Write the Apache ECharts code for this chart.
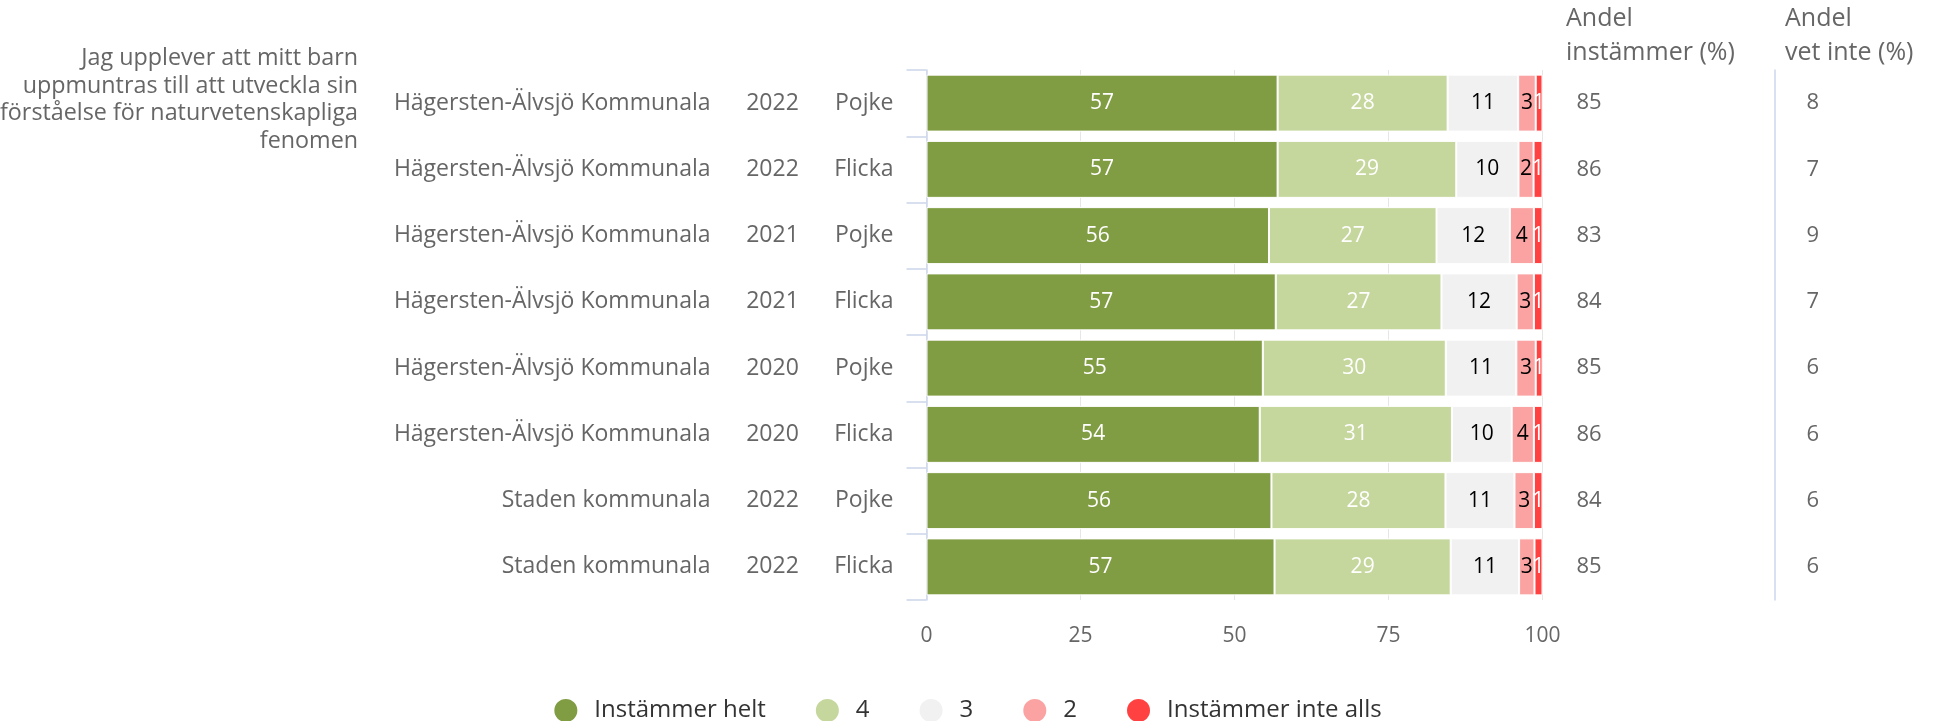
<!DOCTYPE html>
<html>
<head>
<meta charset="utf-8">
<script src="https://cdn.jsdelivr.net/npm/echarts@6/dist/echarts.min.js"></script>
<style>
  html, body { margin: 0; padding: 0; background: #fff; }
  #main { width: 1934px; height: 721px; }
</style>
</head>
<body>
<div id="main"></div>
<script>
// kategorier (uppifrån och ned)
const enheter = ['Hägersten-Älvsjö Kommunala', 'Hägersten-Älvsjö Kommunala', 'Hägersten-Älvsjö Kommunala',
  'Hägersten-Älvsjö Kommunala', 'Hägersten-Älvsjö Kommunala', 'Hägersten-Älvsjö Kommunala',
  'Staden kommunala', 'Staden kommunala'];
const ar = ['2022', '2022', '2021', '2021', '2020', '2020', '2022', '2022'];
const kon = ['Pojke', 'Flicka', 'Pojke', 'Flicka', 'Pojke', 'Flicka', 'Pojke', 'Flicka'];

// andelar i procent per svarsalternativ
const helt = [57.0, 57.0, 55.6, 56.7, 54.6, 54.1, 56.0, 56.5];
const fyra = [27.6, 29.0, 27.2, 26.9, 29.7, 31.2, 28.25, 28.6];
const tre = [11.45, 10.1, 11.9, 12.2, 11.45, 9.7, 11.2, 11.1];
const tva = [2.85, 2.45, 3.9, 2.8, 3.15, 3.6, 3.15, 2.5];
const inteAlls = [1.1, 1.45, 1.4, 1.4, 1.1, 1.4, 1.4, 1.3];

// högerkolumner
const andelInstammer = [85, 86, 83, 84, 85, 86, 84, 85];
const andelVetInte = [8, 7, 9, 7, 6, 6, 6, 6];

const xTicks = [0, 25, 50, 75, 100];
const fraga = 'Jag upplever att mitt barn\nuppmuntras till att utveckla sin\nförståelse för naturvetenskapliga\nfenomen';

const FONT = 'Open Sans';
const GRAY = '#666666';
const AXIS = '#ccd6eb';

const idx = kon.map((k, i) => i);

function bar(name, data, color, labelColor) {
  return {
    name: name,
    type: 'bar',
    stack: 'total',
    barCategoryGap: '14%',
    data: data,
    itemStyle: { color: color, borderColor: '#fff', borderWidth: 1 },
    label: {
      show: true,
      position: 'inside',
      color: labelColor,
      fontFamily: FONT,
      fontSize: 21,
      formatter: (p) => Math.round(p.value)
    },
    emphasis: { disabled: true }
  };
}

const chart = echarts.init(document.getElementById('main'));
chart.setOption({
  animation: false,
  textStyle: { fontFamily: FONT },
  grid: { left: 926.5, right: 391.5, top: 70, bottom: 121 },
  title: [
    { text: 'Andel\ninstämmer (%)', left: 1561, top: -3,
      textStyle: { fontFamily: FONT, fontSize: 25, fontWeight: 'normal', color: GRAY, lineHeight: 34 } },
    { text: 'Andel\nvet inte (%)', left: 1780, top: -3,
      textStyle: { fontFamily: FONT, fontSize: 25, fontWeight: 'normal', color: GRAY, lineHeight: 34 } }
  ],
  graphic: [
    { type: 'text', x: 358, y: 45,
      style: { text: fraga, textAlign: 'right', textVerticalAlign: 'top',
        font: '23.3px "' + FONT + '"', fill: GRAY, lineHeight: 27.5 } }
  ],
  legend: {
    top: 692,
    left: 'center',
    icon: 'circle',
    itemWidth: 25,
    itemHeight: 25,
    itemGap: 48,
    textStyle: { fontFamily: FONT, fontSize: 24, color: '#333', padding: [0, 0, 0, 11] },
    data: ['Instämmer helt', '4', '3', '2', 'Instämmer inte alls']
  },
  xAxis: {
    type: 'value',
    min: xTicks[0],
    max: xTicks[xTicks.length - 1],
    interval: 25,
    axisLine: { show: false },
    axisTick: { show: false },
    axisLabel: { color: GRAY, fontSize: 21, margin: 26 },
    splitLine: { lineStyle: { color: '#e6e6e6', width: 1 } }
  },
  yAxis: [
    {
      type: 'category', inverse: true, position: 'left', data: idx,
      axisLine: { show: true, lineStyle: { color: AXIS, width: 1.5 } },
      axisTick: { show: true, length: 20, lineStyle: { color: AXIS, width: 1.5 } },
      axisLabel: { margin: 33, color: GRAY, fontSize: 23, formatter: (v, i) => kon[i] }
    },
    {
      type: 'category', inverse: true, position: 'left', data: idx,
      axisLine: { show: false }, axisTick: { show: false },
      axisLabel: { margin: 154, align: 'center', color: GRAY, fontSize: 23, formatter: (v, i) => ar[i] }
    },
    {
      type: 'category', inverse: true, position: 'left', data: idx,
      axisLine: { show: false }, axisTick: { show: false },
      axisLabel: { margin: 216, align: 'right', color: GRAY, fontSize: 23, formatter: (v, i) => enheter[i] }
    },
    {
      type: 'category', inverse: true, position: 'right', data: idx,
      axisLine: { show: false }, axisTick: { show: false },
      axisLabel: { margin: 34, align: 'left', color: GRAY, fontSize: 22, formatter: (v, i) => String(andelInstammer[i]) }
    },
    {
      type: 'category', inverse: true, position: 'right', offset: 232, data: idx,
      axisLine: { show: true, lineStyle: { color: AXIS, width: 1.5 } }, axisTick: { show: false },
      axisLabel: { margin: 32, align: 'left', color: GRAY, fontSize: 22, formatter: (v, i) => String(andelVetInte[i]) }
    }
  ],
  series: [
    bar('Instämmer helt', helt, '#819d43', '#ffffff'),
    bar('4', fyra, '#c5d79d', '#ffffff'),
    bar('3', tre, '#f1f1f1', '#000000'),
    bar('2', tva, '#fba3a3', '#000000'),
    bar('Instämmer inte alls', inteAlls, '#ff4141', '#ffffff')
  ]
});
</script>
</body>
</html>
